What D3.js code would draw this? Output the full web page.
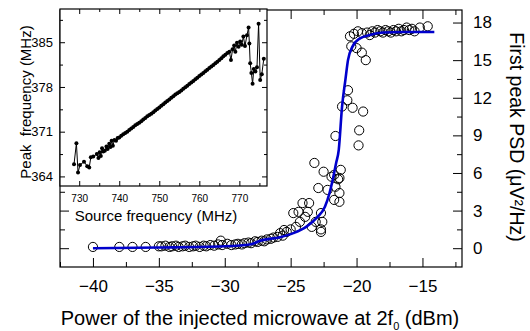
<!DOCTYPE html>
<html>
<head>
<meta charset="utf-8">
<script src="https://cdn.jsdelivr.net/npm/d3@7"></script>
<style>
    body { margin: 0; background: #fff; }
    svg { display: block; font-family: 'Liberation Sans', Arial, sans-serif; }
</style>
</head>
<body>
<div id="chart"></div>
<script>
// measured points, main panel
const powerDbm = [
    -40, -38, -37, -36, -35, -34.8, -34.5, -34.2, -34, -33.7, -33.5, -33.2, -33, -32.7, -32.4,
    -32.2, -31.9, -31.6, -31.4, -31.1, -30.8, -30.5, -30.3, -30.2, -29.8, -29.5, -29.2, -29,
    -28.7, -28.5, -28.2, -28, -27.7, -27.5, -27.2, -27, -26.8, -26.5, -26.3, -26, -25.8, -25.6,
    -25.5, -25.3, -25, -24.8, -24.6, -24.4, -24.3, -24.1, -23.9, -23.7, -23.6, -23.4, -23.2,
    -23.1, -22.9, -22.7, -22.7, -22.7, -22.6, -22.5, -22.2, -21.9, -21.7, -21.7, -21.6, -21.6,
    -21.4, -21.3, -21.3, -21.3, -21.2, -21.1, -20.7, -20.65, -20.5, -20.4, -20.3, -20.2, -20,
    -19.9, -19.85, -19.8, -19.6, -19.6, -19.5, -19.3, -19.2, -19, -18.8, -18.6, -18.4, -18.2,
    -18, -17.8, -17.6, -17.4, -17.2, -17, -16.8, -16.6, -16.4, -16.2, -16, -15.8, -15.6,
    -15.2, -14.6
]
const firstPeakPsd = [
    0.1, 0.1, 0.1, 0.1, 0.15, 0.15, 0.2, 0.1, 0.15, 0.2, 0.1, 0.15, 0.2, 0.1, 0.15,
    0.2, 0.1, 0.2, 0.15, 0.25, 0.2, 0.3, 0.6, 0.25, 0.35, 0.25, 0.3, 0.35,
    0.3, 0.4, 0.45, 0.4, 0.55, 0.5, 0.6, 0.55, 0.7, 0.75, 0.85, 0.9, 1.2, 1.0,
    1.45, 1.3, 1.5, 2.8, 1.7, 2.9, 2.1, 3.6, 2.5, 2.9, 3.6, 1.7, 6.8,
    2.1, 4.8, 2.8, 1.5, 1.3, 2.1, 6.1, 4.65, 5.7, 5.85, 3.85, 4.9, 8.95,
    5.5, 4.4, 3.7, 5.6, 6.25, 11.3, 11.8, 12.6, 16.9, 16.1, 11.2, 17.1, 15.96,
    17.3, 8.2, 9.4, 15.6, 17.15, 10.9, 15, 17.2, 17, 17.3, 17.2, 17.4, 17.3,
    17.2, 17.4, 17.3, 17.2, 17.4, 17.3, 17.5, 17.3, 17.4, 17.6, 17.4, 17.5, 17.3,
    17.6, 17.7
]

// fitted curve
const fitPower = [-40, -35, -30, -28, -27.3, -25.8, -24.8, -23.8, -23.05, -22.4, -22.05, -21.8,
    -21.55, -21.35, -21.1, -20.85, -20.65, -20.3, -19.8, -19, -18, -16.5, -14.1]
const fitPsd = [0, 0.05, 0.15, 0.32, 0.6, 0.88, 1.2, 1.72, 2.4, 3.3, 4.4, 5.5,
    6.8, 7.85, 11.3, 13.4, 15, 16.1, 16.7, 17, 17.2, 17.24, 17.24]

// inset: peak frequency vs source frequency
const sourceFreq = [
    728.7, 729.3, 729.7, 730.2, 731.2, 732, 732.5, 732.9, 733.5, 734.4, 734.8, 735.1, 735.4,
    735.7, 736, 736.4, 736.8, 737.1, 737.5, 737.8, 738.1, 738.4, 738.8, 739.2, 739.6,
    740, 740.5, 741, 741.5, 742, 742.5, 743, 743.5, 744, 744.5, 745, 745.5, 746, 746.5,
    747, 747.5, 748, 748.5, 749, 749.5, 750, 750.5, 751, 751.5, 752, 752.5, 753, 753.5,
    754, 754.5, 755, 755.5, 756, 756.5, 757, 757.5, 758, 758.5, 759, 759.5, 760, 760.5,
    761, 761.5, 762, 762.5, 763, 763.5, 764, 764.5, 765, 765.5, 766, 766.5, 767, 767.5,
    767.9, 768.3, 768.7, 769, 769.4, 769.8, 770.2, 770.6, 771, 771.4, 771.9, 772.3, 772.5,
    772.7, 773, 773.3, 773.6, 774, 774.4, 774.8, 775.2, 775.6, 776.1
]
const peakFreq = [
    365.9, 369.2, 364.6, 365.8, 366.3, 365.6, 365.4, 367, 367.1, 367.5, 366.9, 367.8, 367.2,
    368.4, 367.9, 368, 368.7, 368.3, 369.1, 368.6, 369.6, 368.8, 369.7, 369.6, 370,
    370.1, 370.35, 370.6, 370.8, 371, 371.25, 371.5, 371.75, 372, 372.2, 372.4, 372.65, 372.9, 373.15,
    373.4, 373.6, 373.8, 374.05, 374.3, 374.55, 374.8, 375.05, 375.3, 375.55, 375.8, 376.05, 376.3, 376.55,
    376.8, 377, 377.2, 377.45, 377.7, 377.95, 378.2, 378.45, 378.7, 378.95, 379.2, 379.45, 379.7, 379.95,
    380.2, 380.45, 380.7, 380.95, 381.2, 381.45, 381.7, 381.95, 382.2, 382.5, 382.8, 383.05, 383.3, 383.5,
    382.2, 383.9, 384.5, 383.5, 384.9, 384.3, 385.1, 384.6, 385.9, 384.4, 386.1, 387.3, 384.8,
    381.7, 380.2, 378.5, 380.8, 380.4, 381.1, 387.9, 379.1, 380, 382.4
]

const mainXTicks = [-40, -35, -30, -25, -20, -15]
const mainXMinor = [-42.5, -37.5, -32.5, -27.5, -22.5, -17.5, -12.5]
const mainYTicks = [0, 3, 6, 9, 12, 15, 18]
const mainYMinor = [1.5, 4.5, 7.5, 10.5, 13.5, 16.5]
const insetXTicks = [730, 740, 750, 760, 770]
const insetXMinor = [735, 745, 755, 765, 775]
const insetYTicks = [364, 371, 378, 385]
const insetYMinor = [367.5, 374.5, 381.5, 388.5]

const width = 530, height = 331

const svg = d3.select(`#chart`).append(`svg`).attr(`width`, width).attr(`height`, height)

const x = d3.scaleLinear([-42.5, -12], [60, 462])
const y = d3.scaleLinear([-1.5, 19], [267, 10])

function ticks(g, axis, values, size, pad, fontSize) {
    const sel = g.call(axis.tickValues(values).tickSize(size).tickPadding(pad))
    sel.select(`.domain`).remove()
    sel.selectAll(`line`).attr(`stroke`, `#000`)
    sel.selectAll(`text`).attr(`fill`, `#000`).attr(`font-size`, fontSize)
    sel.attr(`font-family`, null)
    return sel
}

// main axes, ticks pointing inward on all four sides
ticks(svg.append(`g`).attr(`transform`, `translate(0,267)`), d3.axisBottom(x).tickFormat(d3.format(`d`)), mainXTicks, -9, 13, 17)
ticks(svg.append(`g`).attr(`transform`, `translate(0,267)`), d3.axisBottom(x).tickFormat(``), mainXMinor, -5, 0, 0)
ticks(svg.append(`g`).attr(`transform`, `translate(0,10)`), d3.axisTop(x).tickFormat(``), mainXTicks, -9, 0, 0)
ticks(svg.append(`g`).attr(`transform`, `translate(0,10)`), d3.axisTop(x).tickFormat(``), mainXMinor, -5, 0, 0)
ticks(svg.append(`g`).attr(`transform`, `translate(462,0)`), d3.axisRight(y), mainYTicks, -9, 11, 17)
ticks(svg.append(`g`).attr(`transform`, `translate(462,0)`), d3.axisRight(y).tickFormat(``), mainYMinor, -5, 0, 0)
ticks(svg.append(`g`).attr(`transform`, `translate(60,0)`), d3.axisLeft(y).tickFormat(``), mainYTicks, -9, 0, 0)
ticks(svg.append(`g`).attr(`transform`, `translate(60,0)`), d3.axisLeft(y).tickFormat(``), mainYMinor, -5, 0, 0)

svg.append(`rect`).attr(`x`, 60).attr(`y`, 10).attr(`width`, 402).attr(`height`, 257)
    .attr(`fill`, `none`).attr(`stroke`, `#000`).attr(`stroke-width`, 1.2)

svg.append(`g`).selectAll(`circle`).data(powerDbm).join(`circle`)
    .attr(`cx`, d => x(d))
    .attr(`cy`, (d, i) => y(firstPeakPsd[i]))
    .attr(`r`, 4.6)
    .attr(`fill`, `none`).attr(`stroke`, `#000`).attr(`stroke-width`, 1)

const fitLine = d3.line().x(d => x(d[0])).y(d => y(d[1])).curve(d3.curveMonotoneX)
svg.append(`path`).attr(`d`, fitLine(d3.zip(fitPower, fitPsd)))
    .attr(`fill`, `none`).attr(`stroke`, `#0000cc`).attr(`stroke-width`, 2.6)

svg.append(`text`).attr(`x`, 260).attr(`y`, 325).attr(`text-anchor`, `middle`).attr(`font-size`, 20)
    .call(t => {
        t.append(`tspan`).text(`Power of the injected microwave at 2f`)
        t.append(`tspan`).attr(`font-size`, 11).attr(`dy`, 5).text(`0`)
        t.append(`tspan`).attr(`dy`, -5).text(` (dBm)`)
    })

svg.append(`text`).attr(`transform`, `translate(510,137) rotate(90)`).attr(`text-anchor`, `middle`)
    .attr(`font-size`, 19.5).text(`First peak PSD (μV²/Hz)`)

// inset
const xi = d3.scaleLinear([725.2, 776.9], [60, 267])
const yi = d3.scaleLinear([362.5, 390.2], [186, 9])

svg.append(`rect`).attr(`x`, 60).attr(`y`, 9).attr(`width`, 207).attr(`height`, 177).attr(`fill`, `#fff`)

ticks(svg.append(`g`).attr(`transform`, `translate(0,186)`), d3.axisBottom(xi), insetXTicks, -5, 9, 10)
ticks(svg.append(`g`).attr(`transform`, `translate(0,186)`), d3.axisBottom(xi).tickFormat(``), insetXMinor, -3, 0, 0)
ticks(svg.append(`g`).attr(`transform`, `translate(0,9)`), d3.axisTop(xi).tickFormat(``), insetXTicks, -5, 0, 0)
ticks(svg.append(`g`).attr(`transform`, `translate(0,9)`), d3.axisTop(xi).tickFormat(``), insetXMinor, -3, 0, 0)
ticks(svg.append(`g`).attr(`transform`, `translate(60,0)`), d3.axisLeft(yi), insetYTicks, -5, 7, 13)
ticks(svg.append(`g`).attr(`transform`, `translate(60,0)`), d3.axisLeft(yi).tickFormat(``), insetYMinor, -3, 0, 0)
ticks(svg.append(`g`).attr(`transform`, `translate(267,0)`), d3.axisRight(yi).tickFormat(``), insetYTicks, -5, 0, 0)
ticks(svg.append(`g`).attr(`transform`, `translate(267,0)`), d3.axisRight(yi).tickFormat(``), insetYMinor, -3, 0, 0)

const insetLine = d3.line().x(d => xi(d[0])).y(d => yi(d[1]))
const insetData = d3.zip(sourceFreq, peakFreq)
svg.append(`path`).attr(`d`, insetLine(insetData))
    .attr(`fill`, `none`).attr(`stroke`, `#000`).attr(`stroke-width`, 1)
svg.append(`g`).selectAll(`circle`).data(insetData).join(`circle`)
    .attr(`cx`, d => xi(d[0])).attr(`cy`, d => yi(d[1])).attr(`r`, 2).attr(`fill`, `#000`)

svg.append(`rect`).attr(`x`, 60).attr(`y`, 9).attr(`width`, 207).attr(`height`, 177)
    .attr(`fill`, `none`).attr(`stroke`, `#000`).attr(`stroke-width`, 1.2)

svg.append(`text`).attr(`x`, 156).attr(`y`, 221).attr(`text-anchor`, `middle`).attr(`font-size`, 15)
    .text(`Source frequency (MHz)`)

svg.append(`text`).attr(`transform`, `translate(31,102) rotate(-90)`).attr(`text-anchor`, `middle`)
    .attr(`font-size`, 15).style(`white-space`, `pre`).text(`Peak  frequency (MHz)`)
</script>
</body>
</html>
